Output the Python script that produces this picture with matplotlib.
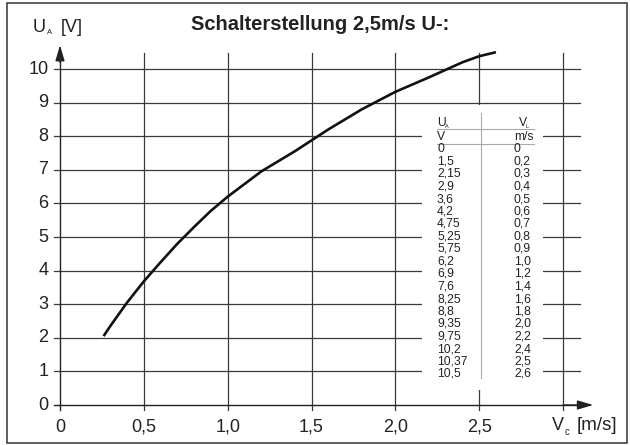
import numpy as np
import matplotlib
matplotlib.use("Agg")
import matplotlib.pyplot as plt
from matplotlib.patches import Rectangle

plt.rcParams['font.family'] = ['Liberation Sans', 'DejaVu Sans']

# table printed in the chart (U_A in V, V_L in m/s)
ua_table = [0, 1.5, 2.15, 2.9, 3.6, 4.2, 4.75, 5.25, 5.75, 6.2, 6.9, 7.6,
            8.25, 8.8, 9.35, 9.75, 10.2, 10.37, 10.5]
vl_table = [0, 0.2, 0.3, 0.4, 0.5, 0.6, 0.7, 0.8, 0.9, 1.0, 1.2, 1.4,
            1.6, 1.8, 2.0, 2.2, 2.4, 2.5, 2.6]

# curve as drawn
curve_v = [0.26, 0.3, 0.4, 0.5, 0.6, 0.7, 0.8, 0.9, 1.0, 1.2, 1.4, 1.6,
           1.8, 2.0, 2.2, 2.4, 2.5, 2.6]
curve_u = [2.05, 2.35, 3.05, 3.68, 4.25, 4.8, 5.3, 5.78, 6.2, 6.95, 7.55,
           8.2, 8.8, 9.32, 9.75, 10.2, 10.38, 10.5]

x_ticks = [0, 0.5, 1.0, 1.5, 2.0, 2.5]
x_ticklabels = ['0', '0,5', '1,0', '1,5', '2,0', '2,5']
y_ticks = list(range(0, 11))

W, H = 630, 445
fig = plt.figure(figsize=(W / 100, H / 100), dpi=100)
ax = fig.add_axes([60 / W, 1 - 405 / H, 503 / W, 336 / H])
ax.set_xlim(0, 3)
ax.set_ylim(0, 10)
ax.axis('off')

ink = '#222222'
grid_c = '#3a3a3a'

# horizontal grid lines (also act as y ticks)
for y in y_ticks[1:]:
    ax.plot([-0.036, 3.1], [y, y], color=grid_c, lw=0.9, clip_on=False, zorder=1)
# vertical grid lines
for x in [0.5, 1.0, 1.5, 2.0, 2.5, 3.0]:
    ax.plot([x, x], [-0.15, 10.48], color=grid_c, lw=0.9, clip_on=False, zorder=1)

# white area behind the value table
ax.add_patch(Rectangle((2.16, 0.45), 0.72, 8.48, facecolor='white',
                       edgecolor='none', zorder=2, clip_on=False))

# axes with arrows
ax.plot([-0.036, 3.1], [0, 0], color=ink, lw=1.0, clip_on=False, zorder=3)
ax.plot([0, 0], [-0.15, 10.4], color=ink, lw=1.0, clip_on=False, zorder=3)
arrow = dict(arrowstyle='-|>,head_length=0.95,head_width=0.28', color=ink,
             lw=1.0, mutation_scale=10, shrinkA=0, shrinkB=0)
ax.annotate('', xy=(3.18, 0), xytext=(3.0, 0), arrowprops=arrow,
            annotation_clip=False, zorder=4)
ax.annotate('', xy=(0, 10.71), xytext=(0, 10.2), arrowprops=arrow,
            annotation_clip=False, zorder=4)

# curve
ax.plot(curve_v, curve_u, color='#111111', lw=1.9, solid_joinstyle='round',
        solid_capstyle='butt', clip_on=False, zorder=5)

# tick labels
for x, lab in zip(x_ticks, x_ticklabels):
    ax.text(x, -0.66, lab, ha='center', va='center', fontsize=13, color=ink)
for y in y_ticks:
    ax.text(-0.07, y, str(y), ha='right', va='center', fontsize=13, color=ink)

# axis labels and title (pixel positions -> figure fractions)
def fx(px):
    return px / W

def fy(py):
    return 1 - py / H

fig.text(fx(33), fy(27), 'U', fontsize=13, color=ink, ha='left', va='center')
fig.text(fx(47), fy(33), 'A', fontsize=5.5, color=ink, ha='left', va='center')
fig.text(fx(61), fy(27), '[V]', fontsize=13, color=ink, ha='left', va='center')

fig.text(fx(552), fy(426), 'V', fontsize=13, color=ink, ha='left', va='center')
fig.text(fx(565), fy(432), 'c', fontsize=7, color=ink, ha='left', va='center')
fig.text(fx(577), fy(426), '[m/s]', fontsize=13.5, color=ink, ha='left', va='center')

fig.text(fx(320), fy(24), 'Schalterstellung 2,5m/s U-:', fontsize=14.5,
         fontweight='bold', color=ink, ha='center', va='center')

# value table
tfs = 8.7
col1, col2 = 437, 514
fig.text(fx(col1), fy(123), 'U', fontsize=tfs, color=ink, ha='left', va='center')
fig.text(fx(col1 + 8), fy(127), 'A', fontsize=4, color=ink, ha='left', va='center')
fig.text(fx(col2 + 5), fy(123), 'V', fontsize=tfs, color=ink, ha='left', va='center')
fig.text(fx(col2 + 12), fy(127), 'L', fontsize=4, color=ink, ha='left', va='center')
fig.text(fx(col1), fy(137), 'V', fontsize=tfs, color=ink, ha='left', va='center')
fig.text(fx(534), fy(137), 'm/s', fontsize=tfs, color=ink, ha='right', va='center')

line_c = '#aaaaaa'
fig.add_artist(plt.Line2D([fx(437), fx(534)], [fy(129), fy(129)], color=line_c, lw=0.8))
fig.add_artist(plt.Line2D([fx(437), fx(534)], [fy(144), fy(144)], color=line_c, lw=0.8))
fig.add_artist(plt.Line2D([fx(481), fx(481)], [fy(113), fy(378)], color=line_c, lw=0.8))

row0, step = 149, 12.5
for i, (u, v) in enumerate(zip(ua_table, vl_table)):
    py = row0 + i * step
    us = f'{u:g}'.replace('.', ',')
    vs = '0' if v == 0 else f'{v:.1f}'.replace('.', ',')
    fig.text(fx(col1), fy(py), us, fontsize=tfs, color=ink, ha='left', va='center')
    fig.text(fx(col2), fy(py), vs, fontsize=tfs, color=ink, ha='left', va='center')

# outer frame
fig.patches.append(Rectangle((fx(7), fy(443)), (627 - 7) / W, (443 - 3) / H,
                             transform=fig.transFigure, fill=False,
                             edgecolor='#333333', lw=1.1))

fig.savefig('out.png', dpi=100)
